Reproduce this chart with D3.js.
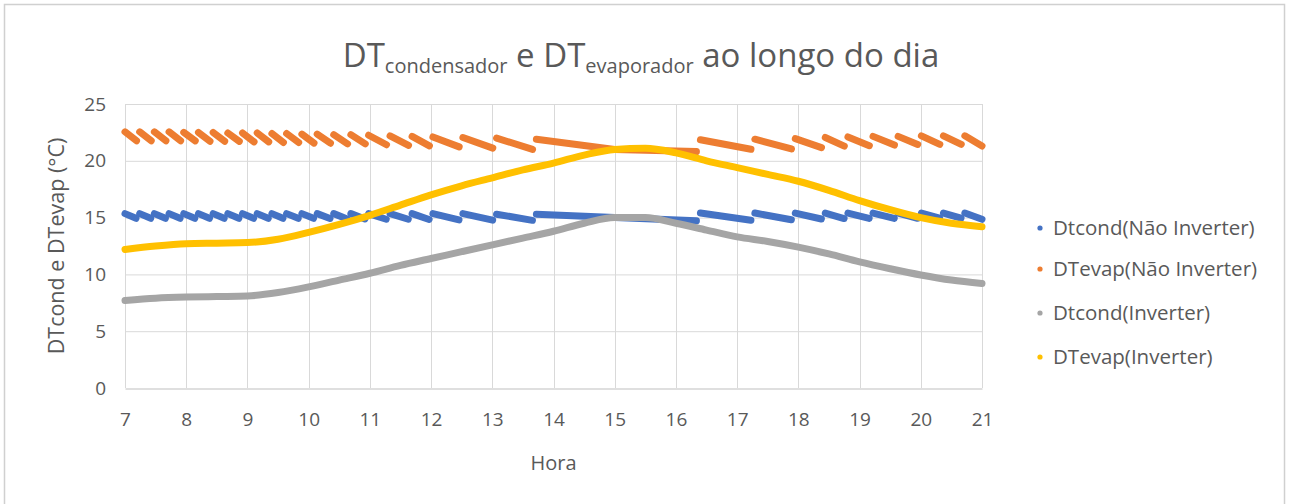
<!DOCTYPE html>
<html>
<head>
<meta charset="utf-8">
<script src="https://cdn.jsdelivr.net/npm/d3@7"></script>
<style>
  html, body { margin: 0; padding: 0; background: #fff; }
  svg { display: block; font-family: "Open Sans", Lato, sans-serif; }
</style>
</head>
<body>
<svg id="chart" width="1290" height="504"></svg>
<script>
// Compressor cycle boundaries (hour of day) for the fixed-speed ("Não Inverter") unit
const cycleEdges = [7.00, 7.24, 7.48, 7.72, 7.96, 8.20, 8.44, 8.68, 8.92, 9.16, 9.40, 9.64,
  9.89, 10.14, 10.41, 10.69, 10.98, 11.33, 11.69, 12.03, 12.52, 13.07, 13.72, 15.00, 16.40,
  17.29, 17.95, 18.44, 18.81, 19.22, 19.63, 20.01, 20.37, 20.72, 21.00];

// DTcond (Não Inverter): value at start and end of each cycle
const dtCondNaoStart = [15.35, 15.35, 15.35, 15.35, 15.35, 15.35, 15.35, 15.35, 15.35, 15.35, 15.35,
  15.35, 15.35, 15.35, 15.35, 15.35, 15.35, 15.35, 15.35, 15.35, 15.35, 15.30, 15.30, 15.00,
  15.40, 15.40, 15.40, 15.40, 15.40, 15.40, 15.40, 15.40, 15.40, 15.40];
const dtCondNaoEnd = [14.80, 14.80, 14.80, 14.80, 14.80, 14.80, 14.80, 14.80, 14.80, 14.80, 14.80,
  14.80, 14.80, 14.80, 14.75, 14.75, 14.75, 14.75, 14.72, 14.72, 14.70, 14.70, 15.00, 14.70,
  14.72, 14.75, 14.80, 14.82, 14.85, 14.85, 14.85, 14.85, 14.85, 14.85];

// DTevap (Não Inverter): value at start and end of each cycle
const dtEvapNaoStart = [22.55, 22.55, 22.55, 22.55, 22.50, 22.50, 22.50, 22.45, 22.45, 22.45, 22.40,
  22.40, 22.35, 22.35, 22.30, 22.30, 22.25, 22.20, 22.15, 22.10, 22.05, 22.00, 21.90, 21.00,
  21.85, 21.90, 21.95, 22.05, 22.10, 22.15, 22.15, 22.20, 22.20, 22.20];
const dtEvapNaoEnd = [21.55, 21.55, 21.55, 21.55, 21.55, 21.50, 21.50, 21.50, 21.45, 21.45, 21.40,
  21.40, 21.35, 21.35, 21.30, 21.30, 21.25, 21.20, 21.15, 21.10, 21.00, 20.90, 21.00, 20.80,
  20.95, 20.95, 21.05, 21.15, 21.20, 21.25, 21.30, 21.30, 21.30, 21.30];

// Inverter unit, sampled every half hour
const hours = [7, 7.5, 8, 8.5, 9, 9.5, 10, 10.5, 11, 11.5, 12, 12.5, 13, 13.5, 14, 14.5,
  15, 15.5, 16, 16.5, 17, 17.5, 18, 18.5, 19, 19.5, 20, 20.5, 21];
const dtCondInv = [7.7, 7.9, 8.0, 8.05, 8.1, 8.4, 8.9, 9.5, 10.1, 10.8, 11.4, 12.0, 12.6, 13.2,
  13.8, 14.5, 15.0, 15.0, 14.5, 13.9, 13.3, 12.9, 12.4, 11.8, 11.1, 10.5, 9.95, 9.5, 9.2];
const dtEvapInv = [12.2, 12.5, 12.7, 12.75, 12.8, 13.1, 13.7, 14.4, 15.2, 16.1, 17.0, 17.8, 18.5,
  19.2, 19.8, 20.5, 21.0, 21.1, 20.7, 20.0, 19.4, 18.8, 18.2, 17.4, 16.5, 15.7, 15.0, 14.5, 14.2];

const xTicks = [7, 8, 9, 10, 11, 12, 13, 14, 15, 16, 17, 18, 19, 20, 21];
const yTicks = [0, 5, 10, 15, 20, 25];

const seriesNames = ["Dtcond(Não Inverter)", "DTevap(Não Inverter)", "Dtcond(Inverter)", "DTevap(Inverter)"];
const seriesColors = ["#4472C4", "#ED7D31", "#A5A5A5", "#FFC000"];

const svg = d3.select("#chart");
const textColor = "#595959";
const fontFamily = '"Open Sans", Lato, sans-serif';

// chart frame
svg.append("rect").attr("x", 4.5).attr("y", 4.5).attr("width", 1280).attr("height", 520)
  .attr("fill", "#fff").attr("stroke", "#D0D0D0").attr("stroke-width", 1.5);

const plot = { left: 125, right: 982, top: 104, bottom: 388 };
const x = d3.scaleLinear().domain([7, 21]).range([plot.left, plot.right]);
const y = d3.scaleLinear().domain([0, 25]).range([plot.bottom, plot.top]);

// gridlines
const grid = svg.append("g");
grid.selectAll("line.h").data(yTicks.slice(1)).join("line")
  .attr("x1", plot.left).attr("x2", plot.right)
  .attr("y1", d => y(d) + 0.5).attr("y2", d => y(d) + 0.5)
  .attr("stroke", "#D9D9D9").attr("stroke-width", 1);
grid.selectAll("line.v").data(xTicks).join("line")
  .attr("x1", d => Math.round(x(d)) + 0.5).attr("x2", d => Math.round(x(d)) + 0.5)
  .attr("y1", plot.top).attr("y2", plot.bottom)
  .attr("stroke", "#D9D9D9").attr("stroke-width", 1);

// axes
const xAxis = svg.append("g").attr("transform", `translate(0,${plot.bottom + 0.5})`)
  .call(d3.axisBottom(x).tickValues(xTicks).tickSize(0).tickPadding(27).tickFormat(d3.format("d")))
  .attr("font-family", fontFamily).attr("font-size", 19);
xAxis.select(".domain").attr("stroke", "#BFBFBF");
xAxis.selectAll("text").attr("fill", textColor).attr("dy", "0.55em");

const yAxis = svg.append("g").attr("transform", `translate(${plot.left},0)`)
  .call(d3.axisLeft(y).tickValues(yTicks).tickSize(0).tickPadding(19).tickFormat(d3.format("d")))
  .attr("font-family", fontFamily).attr("font-size", 19);
yAxis.select(".domain").remove();
yAxis.selectAll("text").attr("fill", textColor);

// series
const line = d3.line();
const marks = svg.append("g").attr("fill", "none").attr("stroke-linecap", "round").attr("stroke-linejoin", "round");

// one slanted stroke per compressor cycle; the restart jump itself is left undrawn
function sawtooth(starts, ends, color) {
  const gap = 4;
  const segs = starts.map((s, i) => {
    const x0 = x(cycleEdges[i]), y0 = y(s);
    const x1 = x(cycleEdges[i + 1]), y1 = y(ends[i]);
    const len = Math.hypot(x1 - x0, y1 - y0);
    const jumps = i + 1 < starts.length && starts[i + 1] !== ends[i];
    const k = jumps && len > gap * 2 ? (len - gap) / len : 1;
    return [[x0, y0], [x0 + (x1 - x0) * k, y0 + (y1 - y0) * k]];
  });
  marks.append("g").selectAll("path").data(segs).join("path")
    .attr("d", line).attr("stroke", color).attr("stroke-width", 7);
}
sawtooth(dtCondNaoStart, dtCondNaoEnd, seriesColors[0]);
sawtooth(dtEvapNaoStart, dtEvapNaoEnd, seriesColors[1]);

const smooth = d3.line().x(d => x(d[0])).y(d => y(d[1])).curve(d3.curveMonotoneX);
marks.append("path").datum(hours.map((h, i) => [h, dtCondInv[i]]))
  .attr("d", smooth).attr("stroke", seriesColors[2]).attr("stroke-width", 7);
marks.append("path").datum(hours.map((h, i) => [h, dtEvapInv[i]]))
  .attr("d", smooth).attr("stroke", seriesColors[3]).attr("stroke-width", 7);

// title with subscripts
const title = svg.append("text").attr("x", 641).attr("y", 67).attr("text-anchor", "middle")
  .attr("fill", textColor).attr("font-size", 33);
title.append("tspan").text("DT");
title.append("tspan").attr("font-size", 20).attr("dy", 6).text("condensador");
title.append("tspan").attr("dy", -6).text(" e DT");
title.append("tspan").attr("font-size", 20).attr("dy", 6).text("evaporador");
title.append("tspan").attr("dy", -6).text(" ao longo do dia");

// axis titles
svg.append("text").attr("transform", "translate(64,246) rotate(-90)").attr("text-anchor", "middle")
  .attr("fill", textColor).attr("font-size", 21.5).text("DTcond e DTevap (°C)");
svg.append("text").attr("x", (plot.left + plot.right) / 2).attr("y", 470).attr("text-anchor", "middle")
  .attr("fill", textColor).attr("font-size", 20).text("Hora");

// legend
const legendY = [228, 269, 313, 357];
const legend = svg.append("g").selectAll("g").data(seriesNames).join("g")
  .attr("transform", (d, i) => `translate(1040,${legendY[i]})`);
legend.append("circle").attr("r", 2.6).attr("fill", (d, i) => seriesColors[i]);
legend.append("text").attr("x", 13).attr("dy", "0.36em").attr("fill", textColor)
  .attr("font-size", 20.5).text(d => d);
</script>
</body>
</html>
